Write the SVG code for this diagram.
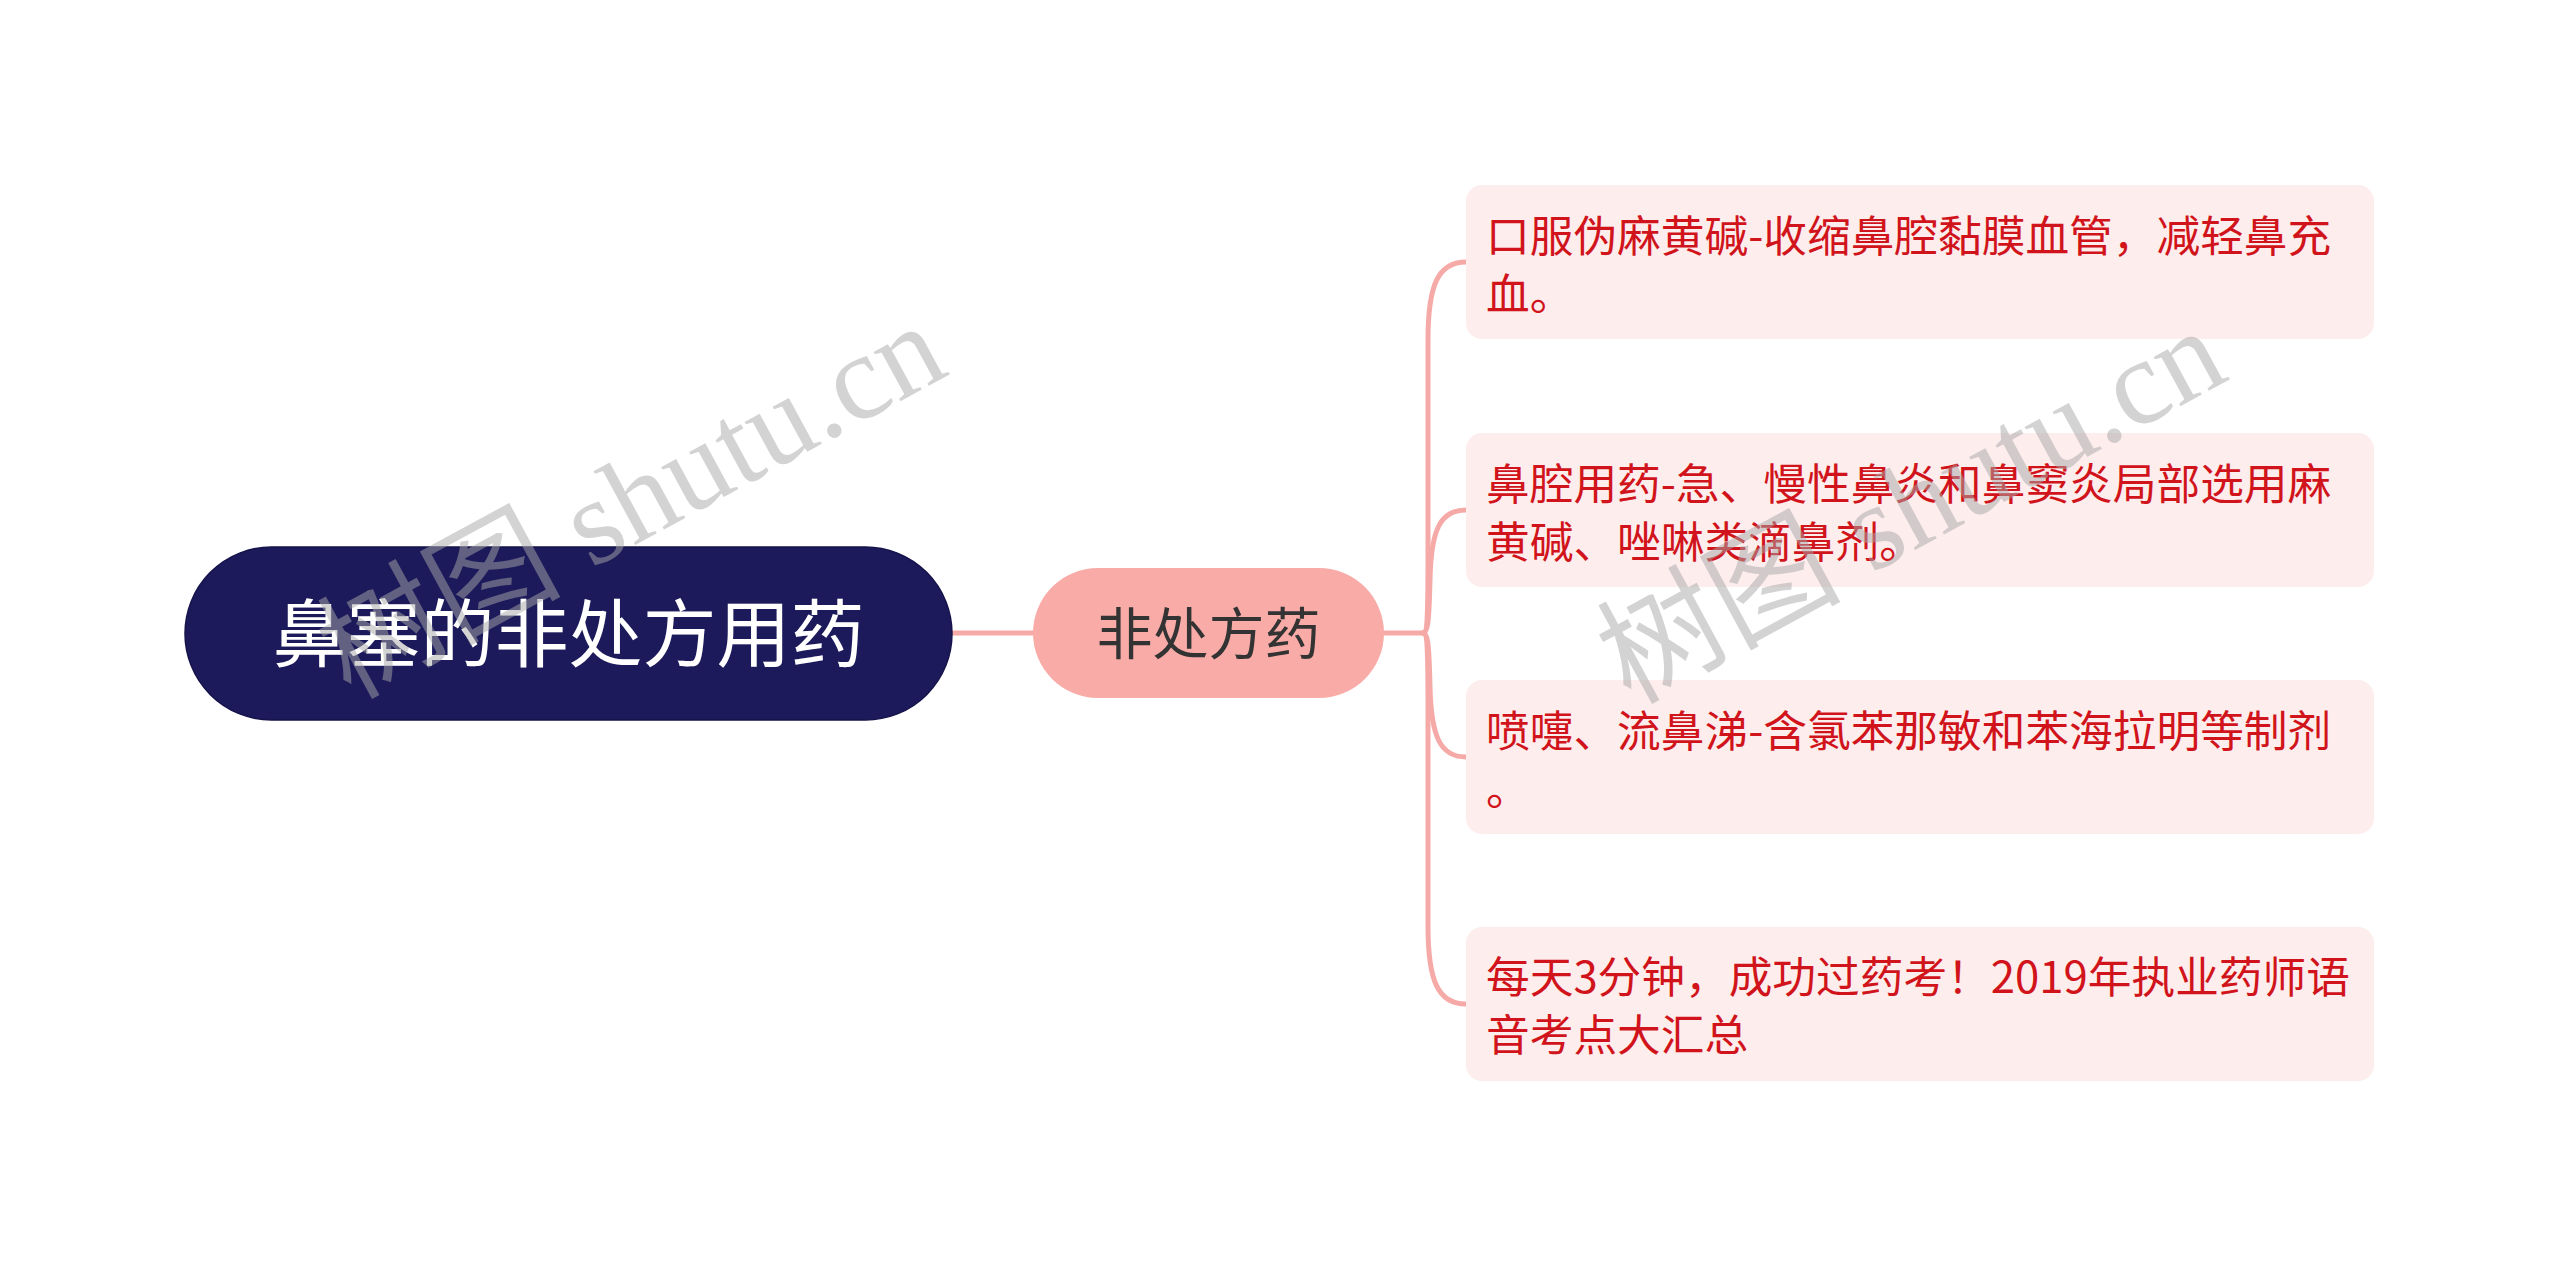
<svg xmlns="http://www.w3.org/2000/svg" width="2560" height="1267" viewBox="0 0 2560 1267">
<style>
.conn{fill:none;stroke:#f6aaa7;stroke-width:5;stroke-linecap:round}
.leafbox{fill:#fdeded}
.leaftxt{font-family:"Noto Sans CJK SC","Noto Sans",sans-serif;font-size:43.7px;fill:#d1141b}
.wm{font-family:"Liberation Serif","Noto Sans CJK SC",serif;font-size:122px;fill:#a8a8a8;fill-opacity:0.5}
</style>
<rect width="2560" height="1267" fill="#ffffff"/>
<g id="connectors">
<path class="conn" d="M952,633 H1033"/>
<path class="conn" d="M1384,633 H1423"/>
<path class="conn" d="M1423,633 C1428,633 1428,600 1428,560 L1428,340 C1428,285 1438,262 1466,262"/>
<path class="conn" d="M1423,633 C1428,633 1429,620 1430,580 C1431,530 1440,510 1466,510"/>
<path class="conn" d="M1423,633 C1428,633 1429,646 1430,686 C1431,736 1440,757 1466,757"/>
<path class="conn" d="M1423,633 C1428,633 1428,666 1428,706 L1428,926 C1428,981 1438,1004 1466,1004"/>
</g>
<g id="root">
<rect x="185" y="547" width="767" height="173" rx="86.5" fill="#1c1a5b" stroke="#15134a" stroke-width="1.5"/>
<text x="568.5" y="661" text-anchor="middle" font-family="Noto Sans CJK SC, sans-serif" font-size="74" fill="#ffffff">鼻塞的非处方用药</text>
</g>
<g id="mid">
<rect x="1033" y="568" width="351" height="130" rx="65" fill="#f9aba8"/>
<text x="1208.5" y="654" text-anchor="middle" font-family="Noto Sans CJK SC, sans-serif" font-size="56" fill="#333333">非处方药</text>
</g>
<g id="leaf1">
<rect class="leafbox" x="1466" y="185" width="908" height="154" rx="16"/>
<text class="leaftxt" x="1486" y="252">口服伪麻黄碱-收缩鼻腔黏膜血管，减轻鼻充</text>
<text class="leaftxt" x="1486" y="310">血。</text>
</g>
<g id="leaf2">
<rect class="leafbox" x="1466" y="433" width="908" height="154" rx="16"/>
<text class="leaftxt" x="1486" y="500">鼻腔用药-急、慢性鼻炎和鼻窦炎局部选用麻</text>
<text class="leaftxt" x="1486" y="558">黄碱、唑啉类滴鼻剂。</text>
</g>
<g id="leaf3">
<rect class="leafbox" x="1466" y="680" width="908" height="154" rx="16"/>
<text class="leaftxt" x="1486" y="747">喷嚏、流鼻涕-含氯苯那敏和苯海拉明等制剂</text>
<text class="leaftxt" x="1486" y="805">。</text>
</g>
<g id="leaf4">
<rect class="leafbox" x="1466" y="927" width="908" height="154" rx="16"/>
<text class="leaftxt" x="1486" y="993">每天3分钟，成功过药考！2019年执业药师语</text>
<text class="leaftxt" x="1486" y="1051">音考点大汇总</text>
</g>
<g id="watermarks">
<text class="wm" transform="translate(350,700) rotate(-28.5)">树图 shutu.cn</text>
<text class="wm" transform="translate(1630,705) rotate(-28.5)">树图 shutu.cn</text>
</g>
</svg>
